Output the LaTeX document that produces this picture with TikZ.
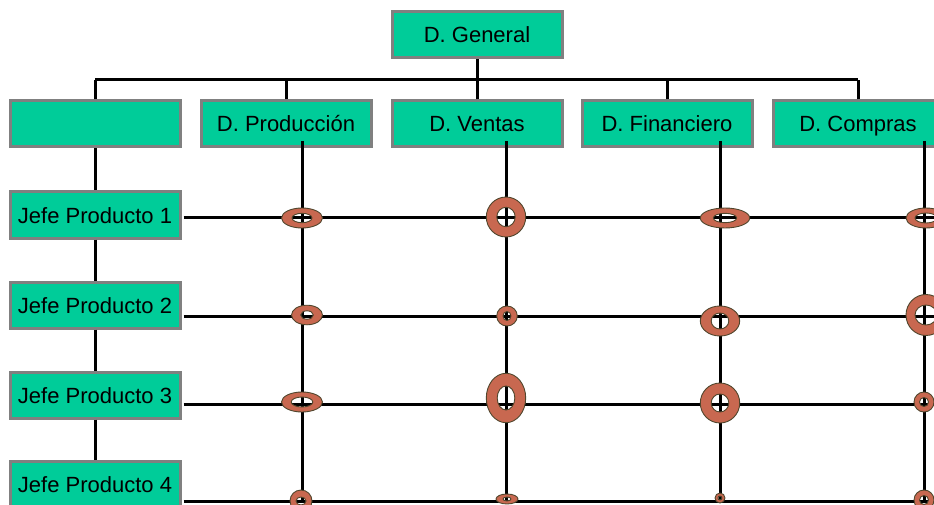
\documentclass[tikz,border=0pt]{standalone}
\usepackage{fontspec}
\setmainfont{Liberation Sans}
\usepackage{tikz}
\definecolor{verde}{RGB}{0,204,153}
\definecolor{cobre}{RGB}{200,104,80}
\definecolor{borde}{RGB}{128,128,128}
\definecolor{canto}{RGB}{80,70,45}

\begin{document}
\begin{tikzpicture}[
  x=1pt, y=-1pt,
  caja/.style={rectangle, draw=borde, line width=3pt, fill=verde, inner sep=0pt,
    minimum width=170pt, minimum height=46pt, text height=20pt, text depth=4pt,
    font=\fontsize{22}{26}\selectfont},
  linea/.style={line width=3pt},
  anillo/.style={fill=cobre, draw=canto, line width=0.9pt, even odd rule}
]
\useasboundingbox (0,0) rectangle (934,505);

% directores
\node[caja] (dgen) at (477,35) {D. General};
\node[caja] (dvacio) at (95,124) {};
\node[caja] (dprod) at (286,124) {D. Producción};
\node[caja] (dvent) at (477,124) {D. Ventas};
\node[caja] (dfin) at (667,124) {D. Financiero};
\node[caja] (dcomp) at (858,124) {D. Compras};

% jefes de producto
\foreach \i/\y in {1/215,2/305,3/395,4/484}
  \node[caja] (jefe\i) at (95,\y) {Jefe Producto \i};

% organigrama
\coordinate (bus) at (0,80);
\coordinate (fin) at (934,0);
\draw[linea] (dvacio.north |- bus) -- (dcomp.north |- bus);
\draw[linea] (dgen.south) -- (dgen.south |- bus);
\foreach \n in {dvacio,dprod,dvent,dfin,dcomp}
  \draw[linea] (\n.north) -- (\n.north |- bus);
\draw[linea] (dvacio.south) -- (jefe1.north);
\draw[linea] (jefe1.south) -- (jefe2.north);
\draw[linea] (jefe2.south) -- (jefe3.north);
\draw[linea] (jefe3.south) -- (jefe4.north);

% matriz
\coordinate (fila1) at (0,218);
\coordinate (fila2) at (0,316);
\coordinate (fila3) at (0,404);
\coordinate (fila4) at (0,501);
\coordinate (cprod) at (302,141);
\coordinate (cvent) at (506,141);
\coordinate (cfin) at (720,141);
\coordinate (ccomp) at (924,141);
\foreach \i in {1,2,3,4}
  \draw[linea] ([xshift=2pt]jefe\i.east |- fila\i) -- (fin |- fila\i);
\foreach \c in {cprod,cvent,cfin,ccomp}
  \draw[linea] (\c) -- (\c |- fila4);

% anillos
\foreach \cx/\cy/\ax/\ay/\bx/\by in {
  302/218/20.5/10/10/4.7, 307/315/15.5/9.8/6.3/4.2, 302/402/20.5/10/10.8/5, 301/501/11/11/5/4,
  506/217/19.7/20/9.2/9.7, 507/316/10.3/10/4/4.5, 506/398/19.7/24.7/8.8/12, 507/499/11/5/4/2,
  725/218/24.7/10/11.7/4.7, 720/321/19.7/15/8.8/8, 720/403/19.7/20/8.8/9, 720/498/5/5/2/2,
  926/218/20/10/11/5, 926/315/20/20.5/11/10, 924/402/10/10/4.5/4.5, 924/500/10/10/4.5/4.5}
  \filldraw[anillo] (\cx,\cy) ellipse [x radius=\ax, y radius=\ay]
    (\cx,\cy) ellipse [x radius=\bx, y radius=\by];
\end{tikzpicture}
\end{document}
